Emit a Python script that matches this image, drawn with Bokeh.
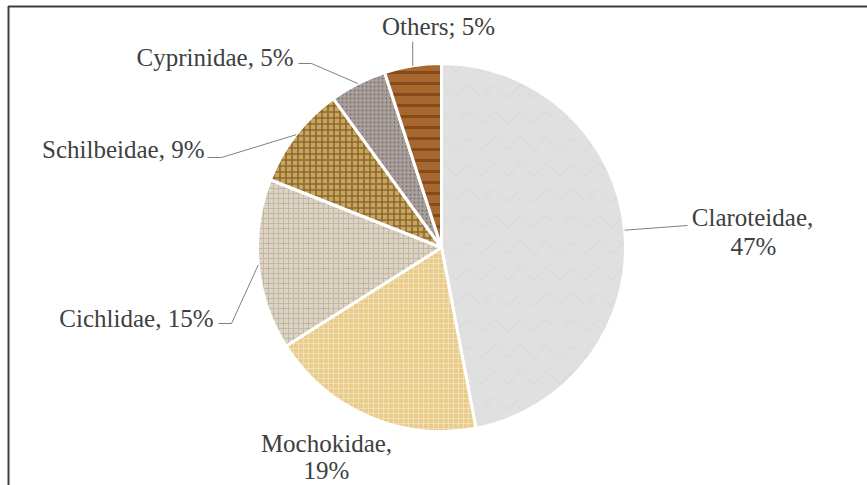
import numpy as np
from bokeh.plotting import figure
from bokeh.models import ColumnDataSource, Range1d
from bokeh.core.properties import value
from bokeh.embed import file_html
from bokeh.resources import INLINE

# ---- data ----
families = ["Claroteidae", "Mochokidae", "Cichlidae", "Schilbeidae", "Cyprinidae", "Others"]
shares = [47, 19, 15, 9, 5, 5]
separators = [",", ",", ",", ",", ",", ";"]

# ---- styling (textures approximated by fill + hatch) ----
fill_colors = ["#e0e0e0", "#e8cc8e", "#dcd3c2", "#c9a45f", "#a9a09c", "#a6682f"]
hatch_patterns = ["horizontal_wave", "cross", "cross", "cross", "dot", "horizontal_line"]
hatch_colors = ["#cbcbcb", "#f4e2b6", "#bdb3a0", "#7f5f27", "#6f6561", "#7e4519"]
hatch_scales = [26, 5, 5, 6, 4, 11]
hatch_weights = [1.0, 1.0, 1.0, 1.6, 1.0, 3.0]
hatch_alphas = [0.55, 0.85, 0.85, 0.85, 0.85, 0.85]

W, H = 867, 485
CX, CY, R = 441, 247, 184   # pixel coords of pie centre and radius
TEXT_SHIFT = -9             # compensate renderer baseline offset

def Y(py):
    return H - py

frac = np.array(shares, dtype=float) / sum(shares)
cum = np.concatenate([[0.0], np.cumsum(frac)])
# clockwise from 12 o'clock
start = np.pi / 2 - 2 * np.pi * cum[1:]
end = np.pi / 2 - 2 * np.pi * cum[:-1]
mid = (start + end) / 2

src = ColumnDataSource(dict(
    x=[CX] * len(families), y=[Y(CY)] * len(families),
    start=start, end=end, fill=fill_colors,
    hatch=hatch_patterns, hcol=hatch_colors,
    hscale=hatch_scales, hweight=hatch_weights, halpha=hatch_alphas,
))

p = figure(width=W, height=H, x_range=Range1d(0, W), y_range=Range1d(0, H),
           output_backend="svg", toolbar_location=None, min_border=0)
p.axis.visible = False
p.grid.visible = False
p.outline_line_color = None
p.background_fill_color = "white"
p.border_fill_color = "white"

p.wedge(x="x", y="y", radius=R, start_angle="start", end_angle="end",
        fill_color="fill", line_color="white", line_width=3,
        hatch_pattern="hatch", hatch_color="hcol", hatch_scale="hscale",
        hatch_weight="hweight", hatch_alpha="halpha", source=src)

# arc mid points for leader lines
ax = CX + R * np.cos(mid)
ay = CY - R * np.sin(mid)

TEXT_COLOR = "#404040"
LINE_COLOR = "#808080"
FONT = value("Liberation Serif")
FS = "25px"

# label layout: (lines, x, baseline_y, align, leader elbow points)
layout = {
    "Claroteidae": dict(lines=[(752, 226), (753, 255)], align="center",
                        leader=[(687, 225)]),
    "Mochokidae": dict(lines=[(326, 452), (326, 479)], align="center", leader=None),
    "Cichlidae": dict(lines=[(213, 327)], align="right", leader=[(231, 323), (218, 323)]),
    "Schilbeidae": dict(lines=[(204, 158)], align="right", leader=[(221, 157), (207, 157)]),
    "Cyprinidae": dict(lines=[(293, 66)], align="right", leader=[(311, 63), (298, 63)]),
    "Others": dict(lines=[(438, 35)], align="center", leader=[(None, 41)]),
}

for i, name in enumerate(families):
    lay = layout[name]
    if len(lay["lines"]) == 2:
        texts = [f"{name}{separators[i]}", f"{shares[i]}%"]
    else:
        texts = [f"{name}{separators[i]} {shares[i]}%"]
    for t, (tx, ty) in zip(texts, lay["lines"]):
        p.text(x=[tx], y=[Y(ty + TEXT_SHIFT)], text=[t], text_font=FONT,
               text_font_size=FS, text_color=TEXT_COLOR, text_align=lay["align"],
               text_baseline="alphabetic")
    if lay["leader"]:
        xs = [ax[i]]
        ys = [Y(ay[i])]
        for (lx, ly) in lay["leader"]:
            xs.append(ax[i] if lx is None else lx)
            ys.append(Y(ly))
        p.line(xs, ys, line_color=LINE_COLOR, line_width=1)

# frame (top and left edges visible in the reference)
p.line([8, 8, W + 5], [Y(H + 5), Y(6), Y(6)], line_color="#3c3c3c", line_width=2)

open("out.html", "w").write(file_html(p, INLINE))
